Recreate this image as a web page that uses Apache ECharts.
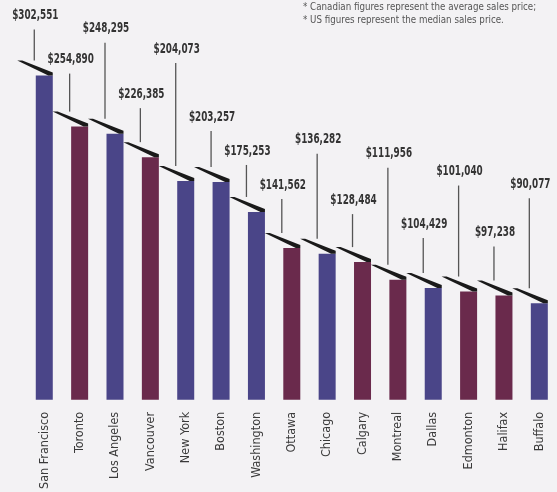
<!DOCTYPE html>
<html>
<head>
<meta charset="utf-8">
<script src="https://cdn.jsdelivr.net/npm/echarts@6/dist/echarts.min.js"></script>
<style>
html,body{margin:0;padding:0;background:#f3f2f4;}
#c{width:557px;height:492px;}
</style>
</head>
<body>
<div id="c"></div>
<script>
// ---- data ----
var cities = ['San Francisco','Toronto','Los Angeles','Vancouver','New York','Boston','Washington','Ottawa','Chicago','Calgary','Montreal','Dallas','Edmonton','Halifax','Buffalo'];
var prices = [302551,254890,248295,226385,204073,203257,175253,141562,136282,128484,111956,104429,101040,97238,90077];
var countries = ['US','CA','US','CA','US','US','US','CA','US','CA','CA','US','CA','CA','US'];
var footnotes = ['* Canadian figures represent the average sales price;','* US figures represent the median sales price.'];

// ---- layout / style (not data) ----
var labelLift = [60,67,105,63,132,65,61,63,114,62,126,64,120,63,119];
var colorMap = {US:'#4a4588', CA:'#6a2a4c'};
var FONT = '"DejaVu Sans Condensed","Liberation Sans Narrow","Roboto",sans-serif';

function fmt(v){ return '$' + v.toString().replace(/\B(?=(\d{3})+(?!\d))/g, ','); }

var chart = echarts.init(document.getElementById('c'));
chart.setOption({
  backgroundColor:'#f3f2f4',
  animation:false,
  graphic: footnotes.map(function(t,i){
    return {type:'text', x:303, y:7 + i*13.5, scaleX:0.88,
      style:{text:t, fill:'#555', font:'11px ' + FONT, verticalAlign:'middle', align:'left'}};
  }),
  grid:{left:26.6, width:537.8, top:30, bottom:92},
  xAxis:{
    type:'category', data:cities,
    axisLine:{show:false}, axisTick:{show:false},
    axisLabel:{rotate:90, margin:12, color:'#3a3a3a', fontSize:12.5, fontFamily:FONT, interval:0}
  },
  yAxis:{type:'value', min:0, max:345000, show:false, splitLine:{show:false}},
  series:[
    {
      type:'bar', barWidth:17,
      data: prices.map(function(v,i){ return {value:v, itemStyle:{color:colorMap[countries[i]]}}; })
    },
    {
      type:'custom',
      data: prices.map(function(v,i){ return [i, v]; }),
      renderItem:function(params, api){
        var i = api.value(0);
        var p = api.coord([i, api.value(1)]);
        var cx = p[0], top = p[1];
        var ly = top - labelLift[i];
        return {type:'group', children:[
          {type:'polygon', shape:{points:[[cx-27, top-15],[cx-22, top-15],[cx+8.5, top-3],[cx+8.5, top],[cx+4, top]]},
            style:{fill:'#1a1a1a'}},
          {type:'line', shape:{x1:cx-10, y1:ly+14, x2:cx-10, y2:top-15},
            style:{stroke:'#555', lineWidth:1.3}},
          {type:'text', x:cx-9, y:ly, scaleX:0.7,
            style:{text:fmt(prices[i]), fill:'#333', font:'bold 14px ' + FONT,
              align:'center', verticalAlign:'middle'}}
        ]};
      },
      z:5
    }
  ]
});
</script>
</body>
</html>
